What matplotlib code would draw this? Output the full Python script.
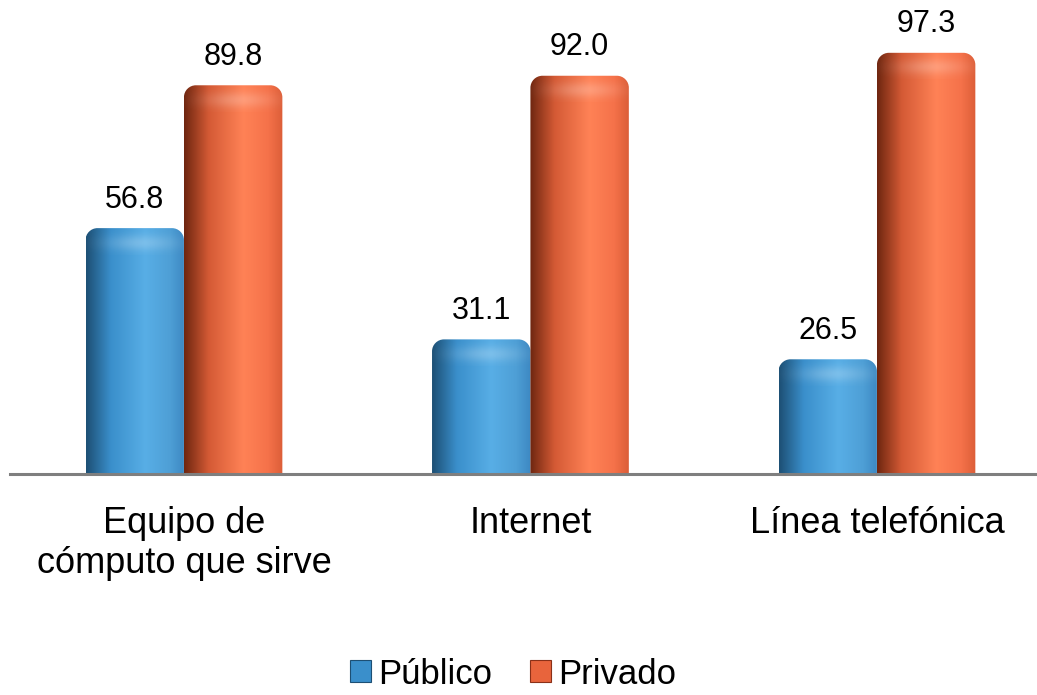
import matplotlib.pyplot as plt
import numpy as np
from matplotlib.path import Path
from matplotlib.patches import PathPatch, Patch
from matplotlib.colors import LinearSegmentedColormap

plt.rcParams['font.family'] = ['Liberation Sans', 'DejaVu Sans']

# ----- data -----
categorias = ['Equipo de\ncómputo que sirve', 'Internet', 'Línea telefónica']
publico = [56.8, 31.1, 26.5]
privado = [89.8, 92.0, 97.3]
series = ['Público', 'Privado']

# gradient colours (left edge -> highlight -> right edge)
azul = ['#1d4f74', '#3a8fcb', '#58aee6', '#4e9fd6', '#3d88c2']
naranja = ['#6e2610', '#d45a35', '#ff8256', '#f5724a', '#dc5e38']

fig = plt.figure(figsize=(10.37, 6.95), dpi=100)
ax = fig.add_axes([10 / 1037, 1 - 474 / 695, 1027 / 1037, 474 / 695])
ax.set_xlim(-0.502, 2.462)
ax.set_ylim(0, 109.5)

ancho = 0.284
px_x = 1027 / (2.462 + 0.502)   # pixels per x unit
px_y = 474 / 109.5              # pixels per y unit
rx = 12 / px_x
ry = 12 / px_y


def barra_redonda(x0, h, colores):
    x1 = x0 + ancho
    k = 0.5523
    verts = [(x0, -2), (x0, h - ry),
             (x0, h - ry + k * ry), (x0 + rx - k * rx, h), (x0 + rx, h),
             (x1 - rx, h),
             (x1 - rx + k * rx, h), (x1, h - ry + k * ry), (x1, h - ry),
             (x1, -2), (x0, -2)]
    codes = [Path.MOVETO, Path.LINETO,
             Path.CURVE4, Path.CURVE4, Path.CURVE4,
             Path.LINETO,
             Path.CURVE4, Path.CURVE4, Path.CURVE4,
             Path.LINETO, Path.CLOSEPOLY]
    patch = PathPatch(Path(verts, codes), facecolor='none', edgecolor='none')
    ax.add_patch(patch)
    cmap = LinearSegmentedColormap.from_list('g', list(zip([0, 0.25, 0.6, 0.85, 1.0], colores)))
    grad = np.linspace(0, 1, 256).reshape(1, -1)
    im = ax.imshow(grad, cmap=cmap, extent=[x0, x1, -2, h], aspect='auto',
                   interpolation='bicubic', zorder=2)
    im.set_clip_path(patch)
    # soft highlight on top cap
    yy = np.linspace(0, 1, 64).reshape(-1, 1)
    xx = np.linspace(0, 1, 64).reshape(1, -1)
    alpha = np.exp(-((yy - 0.55) / 0.3) ** 2) * np.exp(-((xx - 0.55) / 0.35) ** 2) * 0.22
    rgba = np.ones((64, 64, 4))
    rgba[..., 3] = alpha
    im2 = ax.imshow(rgba, extent=[x0, x1, h - 2.2 * ry, h], aspect='auto',
                    interpolation='bicubic', zorder=3)
    im2.set_clip_path(patch)


x = np.arange(len(categorias))
for i in range(len(categorias)):
    barra_redonda(x[i] - ancho, publico[i], azul)
    barra_redonda(x[i], privado[i], naranja)
    ax.text(x[i] - ancho / 2, publico[i] + 4.7, f'{publico[i]:.1f}', ha='center',
            va='baseline', fontsize=22, color='#000000')
    ax.text(x[i] + ancho / 2, privado[i] + 4.7, f'{privado[i]:.1f}', ha='center',
            va='baseline', fontsize=22, color='#000000')

ax.axhline(0, color='#7f7f7f', lw=2.2, zorder=4, clip_on=False)

ax.set_xticks(x)
ax.set_xticklabels(categorias, fontsize=26, linespacing=1.2)
ax.tick_params(axis='x', length=0, pad=23)
ax.set_yticks([])
for s in ax.spines.values():
    s.set_visible(False)
ax.patch.set_alpha(0)

handles = [Patch(facecolor='#3a8fcb', edgecolor='#1d4f74', lw=0.8),
           Patch(facecolor='#e8643c', edgecolor='#8a3018', lw=0.8)]
fig.legend(handles, series, loc='center', bbox_to_anchor=(0.495, 0.03),
           ncol=2, frameon=False, fontsize=25, handlelength=0.6,
           handleheight=0.6, handletextpad=0.2, columnspacing=1.1,
           borderpad=0.1)

fig.savefig('out.png', dpi=100)
